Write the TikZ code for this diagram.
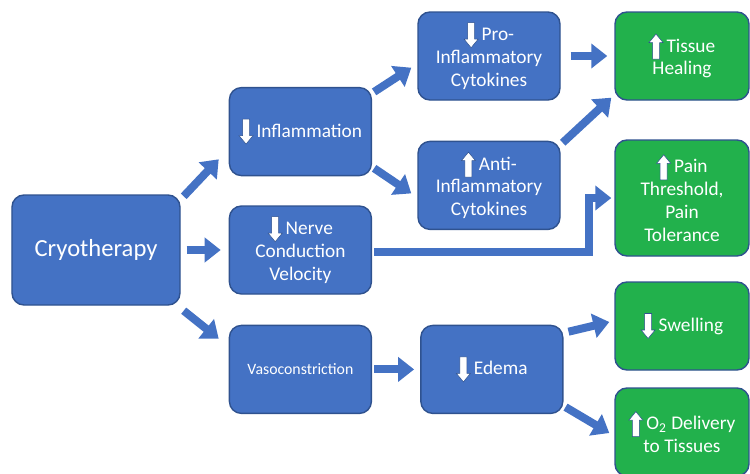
\documentclass[tikz,border=0pt]{standalone}
\usepackage{fontspec}
\setmainfont{Carlito}
\usetikzlibrary{positioning,arrows.meta,calc}

\definecolor{boxblue}{HTML}{4472C4}
\definecolor{boxedge}{HTML}{2F528F}
\definecolor{boxgreen}{HTML}{22B14C}

% small white up / down arrows in front of the labels
\newcommand{\uparr}{\tikz[baseline=0.14cm,sharp corners]\filldraw[fill=white,draw=boxedge,line width=0.3pt] (0,0.5) -- (0.14,0.33) -- (0.07,0.33) -- (0.07,0) -- (-0.07,0) -- (-0.07,0.33) -- (-0.14,0.33) -- cycle;}
\newcommand{\dnarr}{\tikz[baseline=0.14cm,sharp corners]\filldraw[fill=white,draw=boxedge,line width=0.3pt] (0,0) -- (0.14,0.17) -- (0.07,0.17) -- (0.07,0.5) -- (-0.07,0.5) -- (-0.07,0.17) -- (-0.14,0.17) -- cycle;}

\begin{document}
\begin{tikzpicture}

\tikzstyle{bluebox}=[draw=boxedge,line width=0.8pt,fill=boxblue,rounded corners=0.24cm,text=white,align=center,minimum width=2.84cm,minimum height=1.76cm,font=\fontsize{11}{13}\selectfont]
\tikzstyle{greenbox}=[bluebox,fill=boxgreen,minimum width=2.68cm]
\tikzstyle{blockarrow}=[draw=boxblue,line width=0.16cm,-{Triangle[width=0.48cm,length=0.32cm]}]

\useasboundingbox (0,0) rectangle (15,-9.46);

% NODES
% source
\node[bluebox,minimum width=3.36cm,minimum height=2.2cm,font=\fontsize{14}{16}\selectfont](cryo) at (1.92,-5){Cryotherapy};

% first effects
\node[bluebox, right=0.96cm of cryo](nerve){\dnarr\,Nerve\\Conduction\\Velocity};
\node[bluebox, above=0.58cm of nerve](infl){\dnarr\,Inflammation};
\node[bluebox, below=0.6cm of nerve,font=\fontsize{9}{11}\selectfont](vaso){Vasoconstriction};

% second effects
\node[bluebox](pro) at (9.78,-1.12){\dnarr\,Pro-\\Inflammatory\\Cytokines};
\node[bluebox, below=0.8cm of pro](anti){\uparr\,Anti-\\Inflammatory\\Cytokines};
\node[bluebox, right=0.96cm of vaso](edema){\dnarr\,Edema};

% outcomes
\node[greenbox](heal) at (13.64,-1.12){\uparr\,Tissue\\Healing};
\node[greenbox,minimum height=2.32cm](pain) at (13.64,-3.96){\uparr\,Pain\\Threshold,\\Pain\\Tolerance};
\node[greenbox](swell) at (13.64,-6.52){\dnarr\,Swelling};
\node[greenbox](otwo) at (13.64,-8.64){\uparr\,O\textsubscript{2} Delivery\\to Tissues};

% ARROWS
\draw[blockarrow]([shift={(0.06,-0.04)}]cryo.north east) -- ([shift={(-0.2,0.34)}]infl.south west);
\draw[blockarrow]([xshift=0.12cm]cryo.east) -- ([xshift=-0.16cm]cryo.east -| nerve.west);
\draw[blockarrow]([shift={(0.06,-0.1)}]cryo.south east) -- ([shift={(-0.2,-0.28)}]vaso.north west);

\draw[blockarrow]([shift={(0.04,-0.1)}]infl.north east) -- ([shift={(-0.12,0.66)}]pro.south west);
\draw[blockarrow]([shift={(0.04,0.16)}]infl.south east) -- ([shift={(-0.12,-0.16)}]anti.west);

\draw[blockarrow]([xshift=0.2cm]pro.east) -- ([xshift=-0.14cm]heal.west);
\draw[blockarrow]([shift={(0.04,-0.04)}]anti.north east) -- ([shift={(-0.06,0.06)}]heal.south west);

\draw[blockarrow]([shift={(0.04,-0.04)}]nerve.east) -| ([xshift=-0.5cm]pain.west) -- ([xshift=-0.06cm]pain.west);

\draw[blockarrow]([xshift=0.04cm]vaso.east) -- ([xshift=-0.12cm]edema.west);
\draw[blockarrow]([shift={(0.1,-0.14)}]edema.north east) -- ([shift={(-0.1,0.08)}]swell.west);
\draw[blockarrow]([shift={(0.04,0.14)}]edema.south east) -- ([shift={(-0.1,-0.02)}]otwo.west);

\end{tikzpicture}
\end{document}
